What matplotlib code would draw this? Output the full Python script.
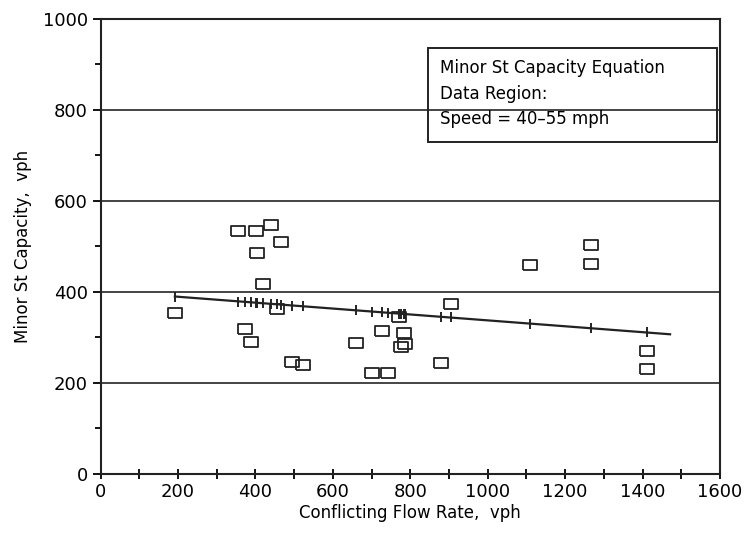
import matplotlib
matplotlib.use('Agg')
import matplotlib.pyplot as plt
from matplotlib.patches import Rectangle

# observed minor street capacity points
flow = [192, 355, 402, 440, 466, 404, 420, 456, 373, 389, 495, 523, 660,
        727, 701, 742, 784, 771, 786, 776, 879, 905, 1109, 1267, 1267, 1411, 1411]
capacity = [354, 534, 534, 547, 510, 486, 418, 363, 319, 290, 246, 240, 288,
            314, 222, 222, 310, 345, 286, 279, 244, 374, 459, 503, 462, 270, 231]

# capacity equation line
line_x = [192, 1471]
line_y = [390, 307]
fit_x = [192, 355, 373, 389, 402, 404, 420, 440, 456, 466, 495, 523, 660, 701,
         727, 742, 771, 776, 784, 786, 879, 905, 1109, 1267, 1411]
fit_y = [390, 379, 378, 377, 376, 376, 375, 374, 373, 372, 370, 369, 360, 357,
         355, 354, 352, 352, 352, 351, 345, 344, 330, 320, 311]

box_lines = ['Minor St Capacity Equation', 'Data Region:', 'Speed = 40\u201355 mph']

plt.rcParams['font.family'] = ['DejaVu Sans']

fig = plt.figure(figsize=(7.48, 5.38), dpi=100)
ax = fig.add_axes([0.1344, 0.119, 0.8282, 0.8458])

for y in [200, 400, 600, 800]:
    ax.axhline(y, color='#444444', lw=1.4, zorder=1)

rect_marker = [(-1.35, -1), (1.35, -1), (1.35, 1), (-1.35, 1), (-1.35, -1)]
ax.plot(flow, capacity, linestyle='none', marker=rect_marker, markersize=9.5,
        markerfacecolor='none', markeredgecolor='#222222', markeredgewidth=1.3, zorder=3)

ax.plot(line_x, line_y, color='#222222', lw=1.6, zorder=2)
ax.plot(fit_x, fit_y, linestyle='none', marker='|', markersize=7,
        markeredgewidth=1.4, color='#222222', zorder=2)

ax.set_xlim(0, 1600)
ax.set_ylim(0, 1000)
ax.set_xticks(range(0, 1601, 200))
ax.set_xticks(range(100, 1600, 200), minor=True)
ax.set_yticks(range(0, 1001, 200))
ax.set_yticks(range(100, 1000, 200), minor=True)

ax.tick_params(axis='x', which='major', direction='inout', length=7, width=1.3,
               labelsize=13, pad=3)
ax.tick_params(axis='x', which='minor', direction='inout', length=7, width=1.3)
ax.tick_params(axis='y', which='major', direction='out', length=6, width=1.3,
               labelsize=13, pad=3)
ax.tick_params(axis='y', which='minor', direction='out', length=4, width=1.3)

for s in ax.spines.values():
    s.set_linewidth(1.5)
    s.set_color('#222222')

ax.set_xlabel('Conflicting Flow Rate,  vph', fontsize=12, labelpad=2)
ax.set_ylabel('Minor St Capacity,  vph', fontsize=12, labelpad=8)

# equation / data region box
ax.add_patch(Rectangle((846, 730), 746, 206, fill=False, edgecolor='#222222',
                       lw=1.4, zorder=4))
for i, t in enumerate(box_lines):
    ax.text(877, 892 - i * 56, t, fontsize=12, va='center', ha='left', zorder=5)

fig.savefig('out.png', dpi=100)
